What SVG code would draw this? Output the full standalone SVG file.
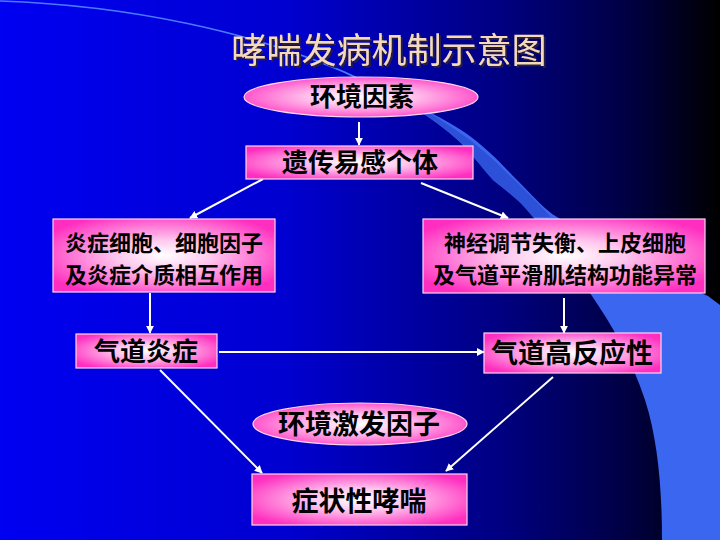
<svg xmlns="http://www.w3.org/2000/svg" width="720" height="540" viewBox="0 0 720 540">
<defs>
<linearGradient id="bg" x1="0" y1="0" x2="1" y2="0">
<stop offset="0" stop-color="#0000f2"/>
<stop offset="0.4" stop-color="#0000d0"/>
<stop offset="0.7" stop-color="#000080"/>
<stop offset="0.88" stop-color="#000040"/>
<stop offset="1" stop-color="#000000"/>
</linearGradient>
<radialGradient id="pink" cx="0.5" cy="0.5" r="0.6">
<stop offset="0" stop-color="#ffffff"/>
<stop offset="0.35" stop-color="#ffc8ee"/>
<stop offset="1" stop-color="#ff2ec0"/>
</radialGradient>
<filter id="shadow" x="-5%" y="-20%" width="110%" height="140%">
<feDropShadow dx="2" dy="2" stdDeviation="0.4" flood-color="#2a1f40" flood-opacity="1"/>
</filter>
<marker id="arr" viewBox="0 0 10 10" refX="9" refY="5" markerWidth="4" markerHeight="4" orient="auto" markerUnits="strokeWidth">
<path d="M0,0 L10,5 L0,10 z" fill="#ffffff"/>
</marker>
<style>
.node{fill:url(#pink);stroke:#ffd6f2;stroke-width:1.2}
.lbl{font-family:"Noto Sans CJK SC","Noto Sans CJK TC",sans-serif;font-weight:700;fill:#000000;text-anchor:middle}
.edge{stroke:#ffffff;stroke-width:2;fill:none;marker-end:url(#arr)}
.title{font-family:"Noto Sans CJK SC",sans-serif;font-weight:400;font-size:35px;text-anchor:middle;fill:#f4d9bb}
</style>
</defs>
<rect x="0" y="0" width="720" height="540" fill="url(#bg)"/>
<path d="M0,1 C120,5 260,30 370,84" stroke="#4a7aff" stroke-width="1.6" fill="none"/>
<path d="M368,82 C420,108 450,120 475,140 C495,156 505,168 517,180 C535,198 545,210 557,217 C600,245 660,275 708,296 L720,305 L720,540 L662,540 C662,490 658,440 645,400 C632,360 612,325 590,293 C570,265 550,238 533,217 C520,200 505,190 493,180 C480,165 470,152 460,142 C430,115 400,98 368,84 Z" fill="#3a66f0"/>
<path d="M368,84 C400,98 430,115 460,142 C470,152 480,165 493,180 C505,190 520,200 533,217 L551,217 C535,200 520,185 508,174 C495,160 482,150 470,140 C440,118 410,100 368,84 Z" fill="#2c50d8"/>
<g id="title">
<text class="title" x="389" y="63" filter="url(#shadow)">哮喘发病机制示意图</text>
</g>
<g id="connectors">
<line class="edge" x1="359" y1="122" x2="359" y2="145"/>
<line class="edge" x1="263" y1="179" x2="190" y2="218"/>
<line class="edge" x1="421" y1="183" x2="508" y2="218"/>
<line class="edge" x1="150" y1="293" x2="150" y2="333"/>
<line class="edge" x1="564" y1="298" x2="564" y2="333"/>
<line class="edge" x1="219" y1="352" x2="484" y2="352"/>
<line class="edge" x1="160" y1="370" x2="262" y2="473"/>
<line class="edge" x1="553" y1="377" x2="446" y2="471"/>
</g>
<g id="n1">
<ellipse class="node" cx="361" cy="97" rx="117" ry="20"/>
<text class="lbl" x="362" y="106" font-size="26">环境因素</text>
</g>
<g id="n2">
<rect class="node" x="246" y="146" width="227" height="33"/>
<text class="lbl" x="360" y="172" font-size="26">遗传易感个体</text>
</g>
<g id="n3">
<rect class="node" x="53" y="219" width="222" height="73"/>
<text class="lbl" x="164" y="251" font-size="22">炎症细胞、细胞因子</text>
<text class="lbl" x="164" y="283" font-size="22">及炎症介质相互作用</text>
</g>
<g id="n4">
<rect class="node" x="423" y="219" width="282" height="74"/>
<text class="lbl" x="565" y="251" font-size="22">神经调节失衡、上皮细胞</text>
<text class="lbl" x="565" y="283" font-size="22">及气道平滑肌结构功能异常</text>
</g>
<g id="n5">
<rect class="node" x="76" y="334" width="141" height="34"/>
<text class="lbl" x="146" y="361" font-size="26">气道炎症</text>
</g>
<g id="n6">
<rect class="node" x="484" y="333" width="177" height="40"/>
<text class="lbl" x="572" y="363" font-size="27">气道高反应性</text>
</g>
<g id="n7">
<ellipse class="node" cx="360" cy="424" rx="107" ry="21"/>
<text class="lbl" x="359" y="434" font-size="27">环境激发因子</text>
</g>
<g id="n8">
<rect class="node" x="252" y="474" width="215" height="51"/>
<text class="lbl" x="359" y="511" font-size="27">症状性哮喘</text>
</g>
</svg>
